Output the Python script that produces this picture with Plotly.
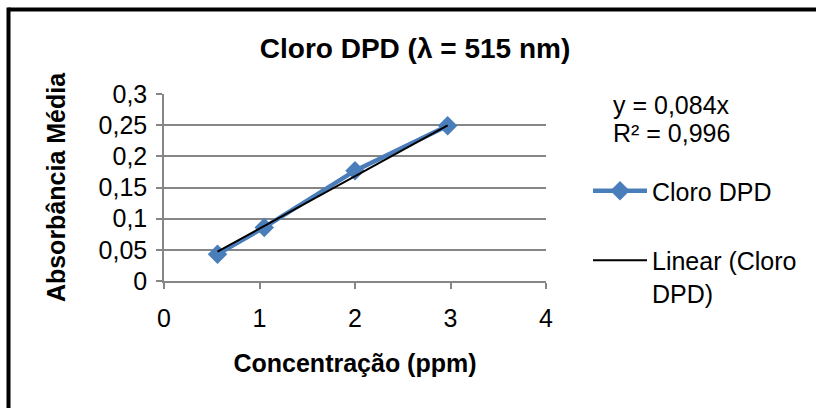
import plotly.graph_objects as go

# Calibration data: chlorine by DPD method, absorbance read at 515 nm
concentracao = [0.56, 1.05, 2.0, 2.97]      # ppm
absorbancia = [0.043, 0.086, 0.177, 0.249]  # mean absorbance

# Linear fit through the origin (as reported)
SLOPE = 0.084
R2 = 0.996

x_ticks = [0, 1, 2, 3, 4]
y_ticks = [0, 0.05, 0.1, 0.15, 0.2, 0.25, 0.3]

BLUE = "#4A7EBB"
GRID = "#868686"
FONT = "Liberation Sans, Arial, sans-serif"

W, H = 817, 409
L, R, T, B = 164, 271, 94, 128
PW, PH = W - L - R, H - T - B


def px_x(px):
    """Pixel column -> paper x."""
    return (px - L) / PW


def px_y(py):
    """Pixel row -> paper y."""
    return (H - B - py) / PH


def fmt(v, nd=3):
    return f"{v:.{nd}f}".replace(".", ",")


trend_x = [min(concentracao), max(concentracao)]
trend_y = [SLOPE * v for v in trend_x]

fig = go.Figure()

fig.add_trace(go.Scatter(
    x=concentracao, y=absorbancia,
    mode="lines+markers",
    name="Cloro DPD",
    legendgroup="a",
    line=dict(color=BLUE, width=4.5),
    marker=dict(symbol="diamond", size=15, color=BLUE),
))

fig.add_trace(go.Scatter(
    x=trend_x, y=trend_y,
    mode="lines",
    name="Linear (Cloro<br>DPD)",
    legendgroup="b",
    line=dict(color="black", width=2),
))

# Outer chart frame (top and left edges)
frame = dict(color="black", width=4)
fig.add_shape(type="line", xref="paper", yref="paper",
              x0=px_x(8.5), x1=px_x(W - 1), y0=px_y(9.5), y1=px_y(9.5), line=frame)
fig.add_shape(type="line", xref="paper", yref="paper",
              x0=px_x(8.5), x1=px_x(8.5), y0=px_y(7.5), y1=px_y(H - 1), line=frame)

# Regression equation
fig.add_annotation(xref="paper", yref="paper", x=px_x(611), y=px_y(105),
                   xanchor="left", yanchor="middle", showarrow=False,
                   text=f"y = {fmt(SLOPE)}x", font=dict(size=25, color="black", family=FONT))
fig.add_annotation(xref="paper", yref="paper", x=px_x(611), y=px_y(133),
                   xanchor="left", yanchor="middle", showarrow=False,
                   text=f"R² = {fmt(R2)}", font=dict(size=25, color="black", family=FONT))

fig.update_layout(
    width=W, height=H,
    margin=dict(l=L, r=R, t=T, b=B),
    paper_bgcolor="white", plot_bgcolor="white",
    separators=", ",
    font=dict(family=FONT, color="black"),
    title=dict(text="<b>Cloro DPD (λ = 515 nm)</b>", x=415 / W, xanchor="center",
               y=1 - 48 / H, yanchor="middle",
               font=dict(size=28, family=FONT, color="black")),
    showlegend=True,
    legend=dict(
        x=px_x(588), y=px_y(168), xanchor="left", yanchor="top",
        traceorder="grouped", tracegroupgap=34, valign="top",
        itemwidth=54,
        font=dict(size=25, family=FONT, color="black"),
        bgcolor="rgba(0,0,0,0)",
    ),
    xaxis=dict(
        range=[0, 4], tickvals=x_ticks, ticktext=[str(v) for v in x_ticks],
        showgrid=False, zeroline=False,
        showline=True, linecolor=GRID, linewidth=1.5,
        ticks="outside", ticklen=6, tickcolor=GRID, tickwidth=1.5,
        ticklabelstandoff=8,
        tickfont=dict(size=25, family=FONT, color="black"),
        title=dict(text="<b>Concentração (ppm)</b>", standoff=24,
                   font=dict(size=25, family=FONT, color="black")),
        automargin=False,
    ),
    yaxis=dict(
        range=[0, 0.3], tickvals=y_ticks,
        showgrid=True, gridcolor=GRID, gridwidth=1.5,
        zeroline=False,
        showline=True, linecolor=GRID, linewidth=1.5,
        ticks="outside", ticklen=6, tickcolor=GRID, tickwidth=1.5,
        ticklabelstandoff=4,
        tickfont=dict(size=25, family=FONT, color="black"),
        title=dict(text="<b>Absorbância Média</b>", standoff=26,
                   font=dict(size=25, family=FONT, color="black")),
        automargin=False,
    ),
)

fig.write_html("out.html", config={"displayModeBar": False})
